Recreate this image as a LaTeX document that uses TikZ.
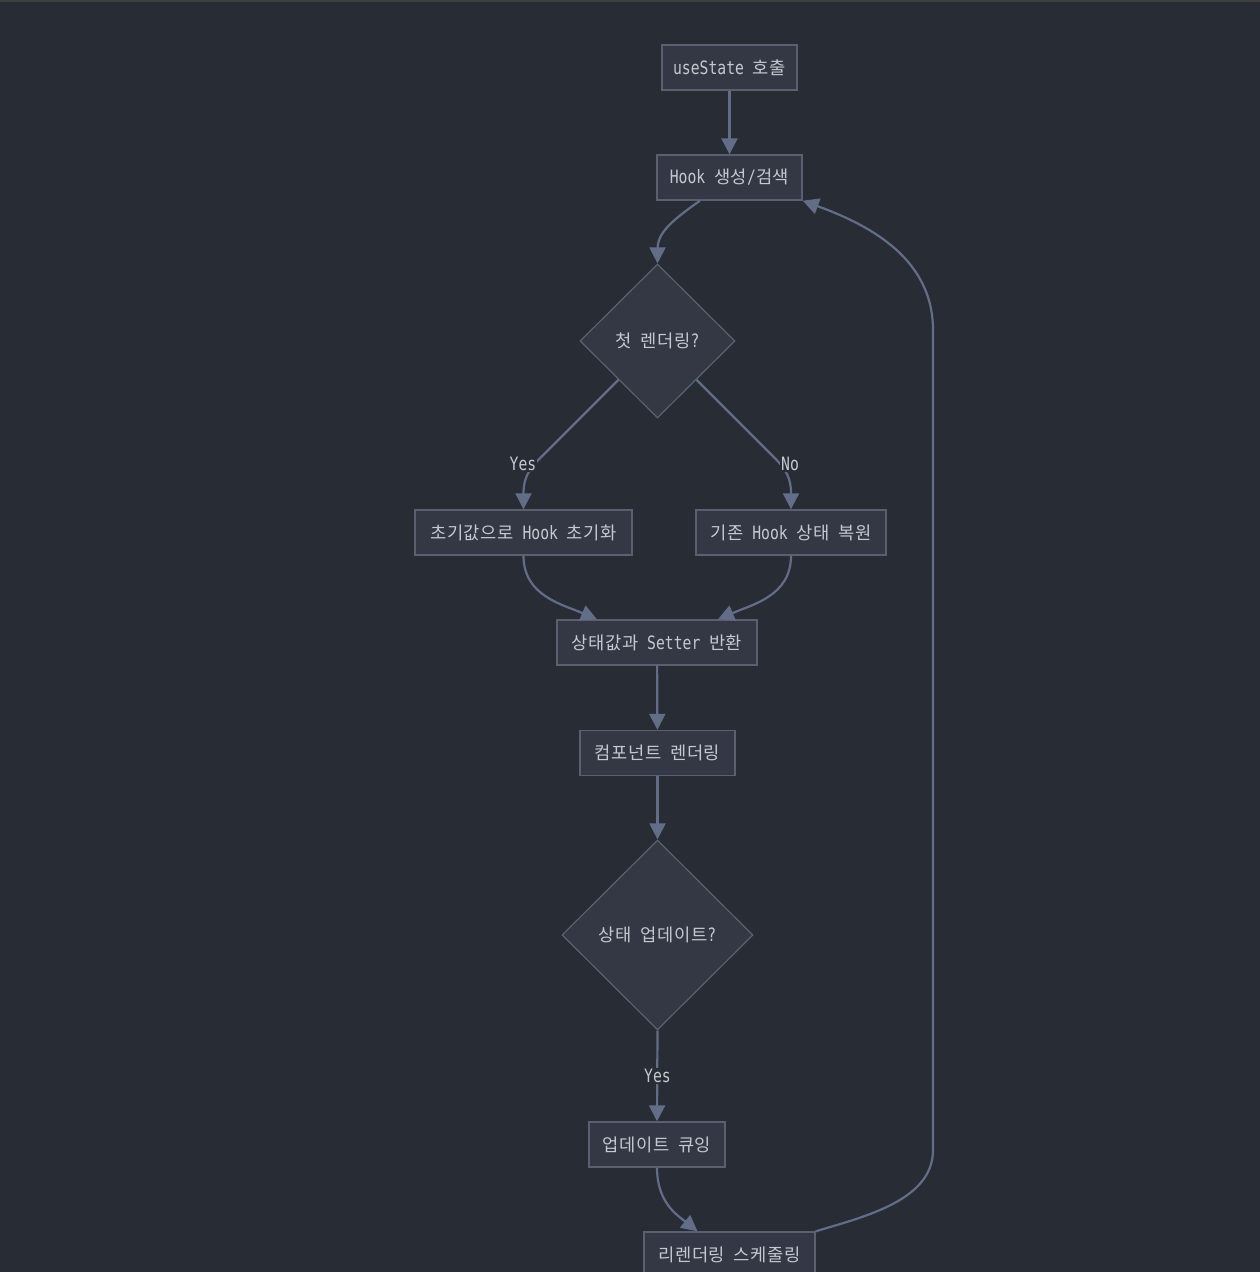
\documentclass[tikz,border=0pt]{standalone}
\usepackage{fontspec}
\setmainfont[FakeStretch=0.8]{DejaVu Sans Mono}
\newfontfamily\kr[Scale=0.96,LetterSpace=3]{Noto Sans CJK KR}
\newcommand\K[1]{{\kr #1}}
\usetikzlibrary{shapes.geometric,arrows.meta,calc}
\definecolor{bg}{RGB}{40,44,53}
\definecolor{topbar}{RGB}{62,63,58}
\definecolor{nodefill}{RGB}{52,56,68}
\definecolor{nodeline}{RGB}{90,96,112}
\definecolor{edge}{RGB}{98,109,136}
\definecolor{txt}{RGB}{196,200,208}
\begin{document}
\begin{tikzpicture}[x=1pt,y=-1pt,
  every node/.style={font=\fontsize{18.4}{21}\selectfont, text=txt},
  box/.style={draw=nodeline, fill=nodefill, line width=1.4pt, inner sep=0pt, minimum height=45pt},
  dec/.style={diamond, aspect=1, draw=nodeline, fill=nodefill, line width=1.2pt, inner sep=0pt},
  arr/.style={draw=edge, line width=2.2pt, -{Triangle[length=16pt,width=16pt]}},
  lbl/.style={fill=bg, inner sep=1pt}]
% canvas
\fill[bg] (0,0) rectangle (1260,1272);
\fill[topbar] (0,0) rectangle (1260,2);
\useasboundingbox (0,0) rectangle (1260,1272);

% nodes
\node[box, minimum width=135pt] (u) at (729.5,67.5) {useState \K{호출}};
\node[box, minimum width=145pt] (h) at (729.5,177.5) {Hook \K{생성}/\K{검색}};
\node[dec, minimum width=155pt, minimum height=154pt] (d1) at (657.5,341) {\K{첫} \K{렌더링}?};
\node[box, minimum width=217pt] (i) at (523.5,532.5) {\K{초기값으로} Hook \K{초기화}};
\node[box, minimum width=190pt] (r) at (791,532.5) {\K{기존} Hook \K{상태} \K{복원}};
\node[box, minimum width=200pt] (ret) at (657,642.5) {\K{상태값과} Setter \K{반환}};
\node[box, minimum width=155pt] (c) at (657.5,753) {\K{컴포넌트} \K{렌더링}};
\node[dec, minimum width=191pt, minimum height=190pt] (d2) at (657.5,935) {\K{상태} \K{업데이트}?};
\node[box, minimum width=136pt] (q) at (657,1144.5) {\K{업데이트} \K{큐잉}};
\node[box, minimum width=171pt] (s) at (729.5,1254.5) {\K{리렌더링} \K{스케줄링}};

% connectors
\draw[arr] (u) -- (h);
\draw[arr] ($(h.south)+(-29.5,0)$) .. controls +(-30,21) and +(0,-16) .. ($(d1.north)+(0,-14)$) -- (d1.north);
\draw[arr] (d1.south west) -- ($(d1.south west)+(-73,73)$) .. controls +(-12,12) and +(0,-20) .. ($(i.north)+(0,-16)$) -- (i.north);
\draw[arr] (d1.south east) -- ($(d1.south east)+(73,73)$) .. controls +(12,12) and +(0,-20) .. ($(r.north)+(0,-16)$) -- (r.north);
\draw[arr] (i.south) .. controls +(0,40) and +(-35,-15) .. ($(ret.north)+(-60,0)$);
\draw[arr] (r.south) .. controls +(0,40) and +(35,-15) .. ($(ret.north)+(61,0)$);
\draw[arr] (ret) -- (c);
\draw[arr] (c) -- (d2);
\draw[arr] (d2.south) -- (q.north);
\draw[arr] (q.south) .. controls +(0,35) and +(-20,-16) .. ($(s.north)+(-32,0)$);
\draw[arr] (s.north east) .. controls +(50,-15) and +(0,50) .. (933,1150) -- (933,330) .. controls +(0,-75) and +(60,22) .. (h.south east);

% edge labels
\node[lbl] (yes1) at (523,464) {Yes};
\node[lbl] (no1) at (790,464) {No};
\node[lbl] (yes2) at (657.5,1076) {Yes};
\end{tikzpicture}
\end{document}
